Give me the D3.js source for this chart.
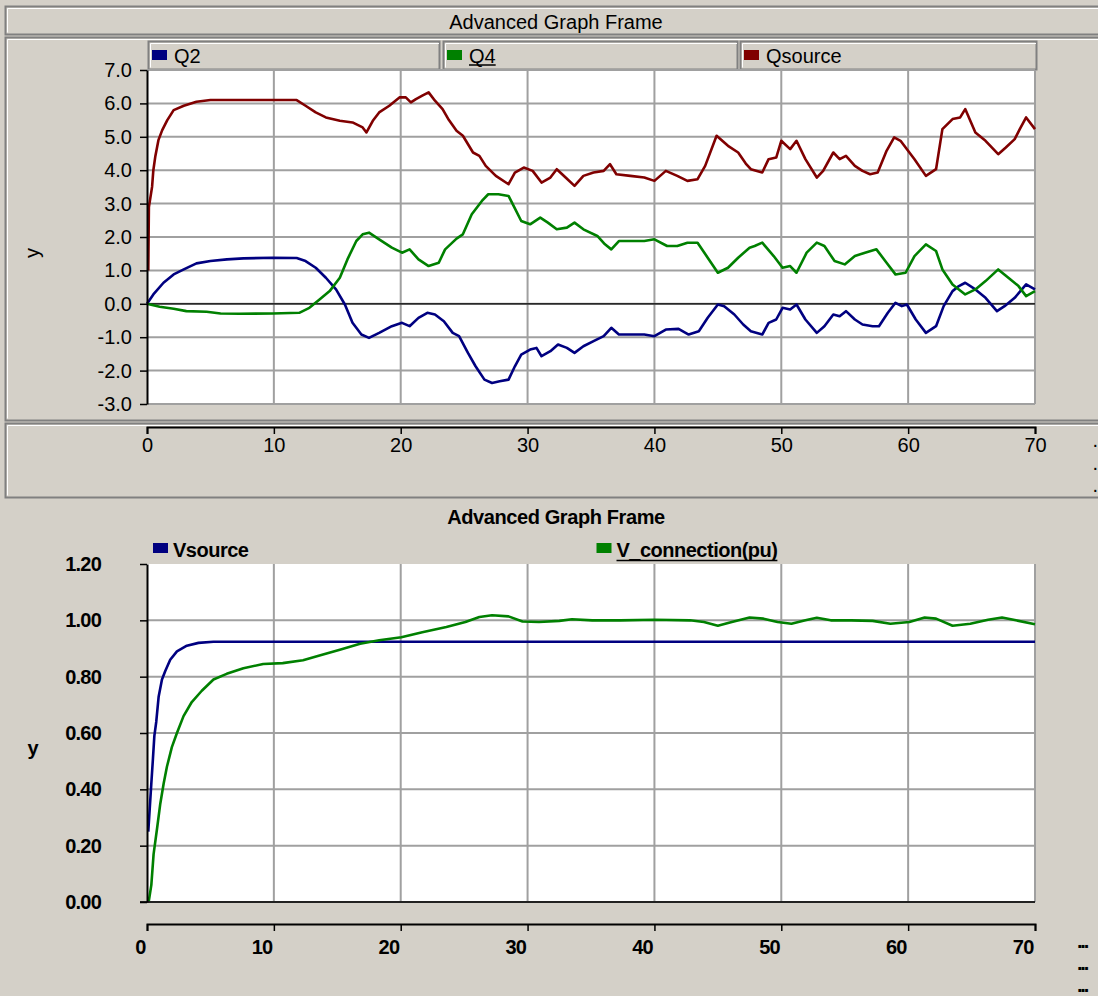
<!DOCTYPE html>
<html><head><meta charset="utf-8">
<script src="https://cdn.jsdelivr.net/npm/d3@7"></script>
<style>
body{margin:0;background:#d4d0c8;}
svg{display:block;font-family:"Liberation Sans",Arial,sans-serif;}
</style>
</head><body>
<svg id="c" width="1098" height="996"></svg>
<script>
// ---------- data ----------
const frameTitle = "Advanced Graph Frame";
const xTicks = [0,10,20,30,40,50,60,70];
const topYTicks = [7,6,5,4,3,2,1,0,-1,-2,-3];
const botYTicks = [1.2,1.0,0.8,0.6,0.4,0.2,0.0];
const topNames = ["Q2","Q4","Qsource"];
const topColors = ["#000080","#008000","#800000"];
const botNames = ["Vsource","V_connection(pu)"];
const botColors = ["#000080","#008000"];

const q2 = [[0,0],[0.5,0.28],[1.3,0.63],[2.1,0.88],[2.9,1.03],[3.9,1.21],[5.0,1.28],[6.3,1.33],[7.6,1.36],[9.9,1.38],[11.8,1.37],[12.5,1.28],[13.3,1.08],[14.1,0.78],[14.9,0.43],[15.6,-0.02],[16.2,-0.57],[16.9,-0.92],[17.5,-1.02],[18.3,-0.87],[19.3,-0.67],[20.1,-0.57],[20.7,-0.67],[21.4,-0.42],[22.1,-0.27],[22.7,-0.32],[23.4,-0.52],[24.1,-0.87],[24.6,-0.97],[25.3,-1.47],[25.9,-1.87],[26.6,-2.27],[27.2,-2.37],[27.8,-2.32],[28.5,-2.27],[29.0,-1.87],[29.5,-1.52],[30.2,-1.37],[30.7,-1.32],[31.1,-1.57],[31.8,-1.42],[32.4,-1.22],[33.1,-1.32],[33.7,-1.47],[34.4,-1.27],[35.2,-1.12],[36.0,-0.97],[36.6,-0.72],[37.2,-0.92],[38.1,-0.92],[39.2,-0.92],[40.0,-0.97],[40.9,-0.77],[41.9,-0.75],[42.7,-0.92],[43.5,-0.82],[44.2,-0.42],[45.0,-0.02],[45.5,-0.07],[46.3,-0.32],[47.0,-0.62],[47.6,-0.82],[48.5,-0.92],[49.0,-0.57],[49.6,-0.47],[50.1,-0.12],[50.7,-0.17],[51.2,-0.02],[51.9,-0.47],[52.8,-0.87],[53.4,-0.67],[54.1,-0.32],[54.6,-0.37],[55.1,-0.22],[55.8,-0.47],[56.4,-0.62],[57.2,-0.67],[57.7,-0.67],[58.4,-0.27],[59.0,0.03],[59.5,-0.07],[59.9,-0.02],[60.6,-0.47],[61.4,-0.87],[62.2,-0.67],[62.8,-0.07],[63.5,0.38],[64.0,0.53],[64.5,0.63],[65.3,0.43],[66.1,0.18],[67.0,-0.22],[67.6,-0.07],[68.4,0.18],[69.3,0.58],[70,0.43]];

const q4 = [[0,0],[1.0,-0.09],[2.1,-0.15],[3.1,-0.22],[4.7,-0.24],[5.8,-0.29],[7.3,-0.30],[9.9,-0.29],[12.0,-0.27],[12.8,-0.12],[13.6,0.13],[14.4,0.38],[15.2,0.78],[15.8,1.33],[16.5,1.88],[17.0,2.08],[17.5,2.13],[18.3,1.93],[19.3,1.68],[20.1,1.53],[20.7,1.63],[21.4,1.33],[22.2,1.13],[23.0,1.23],[23.5,1.63],[24.4,1.95],[24.9,2.08],[25.6,2.68],[26.4,3.08],[26.9,3.28],[27.7,3.28],[28.5,3.23],[28.9,2.93],[29.5,2.48],[30.2,2.38],[31.0,2.58],[31.6,2.43],[32.3,2.23],[33.1,2.28],[33.7,2.43],[34.4,2.23],[35.5,2.03],[36.1,1.78],[36.6,1.63],[37.2,1.88],[38.1,1.88],[39.2,1.88],[40.0,1.93],[41.0,1.73],[41.8,1.73],[42.6,1.83],[43.4,1.83],[44.2,1.38],[45.0,0.93],[45.8,1.08],[46.6,1.38],[47.5,1.68],[47.9,1.73],[48.5,1.83],[49.4,1.43],[50.1,1.08],[50.7,1.13],[51.2,0.93],[52.0,1.53],[52.8,1.83],[53.4,1.73],[54.2,1.28],[55.0,1.18],[55.8,1.43],[56.6,1.53],[57.5,1.63],[58.3,1.23],[59.0,0.88],[59.8,0.93],[60.5,1.43],[61.4,1.78],[62.2,1.58],[62.7,1.03],[63.5,0.58],[64.5,0.28],[65.3,0.43],[66.1,0.68],[67.1,1.03],[67.9,0.78],[68.7,0.53],[69.3,0.23],[70,0.38]];

const qsource = [[0.1,1.0],[0.15,2.9],[0.4,3.5],[0.5,4.0],[0.65,4.4],[0.9,4.9],[1.2,5.2],[1.6,5.5],[2.1,5.8],[2.9,5.93],[3.9,6.05],[5.0,6.1],[11.8,6.1],[12.5,5.93],[13.3,5.73],[14.1,5.58],[15.2,5.48],[16.2,5.43],[17.0,5.28],[17.3,5.13],[17.8,5.48],[18.3,5.73],[19.1,5.93],[19.9,6.18],[20.4,6.18],[20.8,6.03],[21.2,6.13],[21.7,6.23],[22.2,6.33],[22.7,6.08],[23.3,5.83],[23.8,5.5],[24.4,5.18],[24.9,5.03],[25.7,4.53],[26.2,4.43],[26.7,4.13],[27.5,3.83],[28.5,3.58],[29.0,3.93],[29.7,4.08],[30.4,3.98],[31.1,3.63],[31.8,3.78],[32.3,4.03],[33.0,3.78],[33.7,3.53],[34.4,3.83],[35.2,3.93],[36.0,3.98],[36.5,4.18],[37.0,3.88],[38.1,3.83],[39.2,3.78],[40.0,3.68],[40.9,3.98],[41.8,3.83],[42.6,3.68],[43.4,3.73],[44.0,4.13],[44.9,5.03],[45.8,4.73],[46.6,4.53],[47.2,4.2],[47.6,4.03],[48.5,3.93],[49.0,4.33],[49.6,4.38],[50.0,4.88],[50.7,4.63],[51.2,4.88],[51.9,4.33],[52.8,3.78],[53.3,3.98],[54.1,4.53],[54.6,4.33],[55.1,4.43],[55.8,4.13],[56.4,3.98],[57.0,3.88],[57.6,3.93],[58.3,4.58],[58.9,4.98],[59.4,4.88],[59.8,4.68],[60.5,4.33],[61.4,3.83],[62.2,4.03],[62.7,5.23],[63.5,5.53],[64.1,5.58],[64.5,5.83],[65.3,5.13],[66.1,4.88],[67.1,4.48],[67.7,4.68],[68.4,4.93],[68.8,5.23],[69.3,5.58],[70,5.23]];

const vsource = [[0.1,0.25],[0.34,0.42],[0.47,0.51],[0.58,0.59],[0.73,0.64],[0.92,0.73],[1.18,0.79],[1.44,0.82],[1.83,0.86],[2.36,0.89],[3.14,0.91],[4.06,0.92],[5.24,0.924],[70,0.924]];

const vconn = [[0.13,0],[0.34,0.06],[0.52,0.17],[0.79,0.26],[1.05,0.35],[1.31,0.42],[1.57,0.48],[1.96,0.55],[2.36,0.60],[2.88,0.66],[3.53,0.71],[4.32,0.75],[5.24,0.79],[6.28,0.81],[7.6,0.83],[9.16,0.845],[10.7,0.848],[12.3,0.858],[13.6,0.875],[15.2,0.896],[16.8,0.917],[18.3,0.929],[20.05,0.94],[21.7,0.958],[23.6,0.976],[25.1,0.994],[26.2,1.012],[27.2,1.018],[28.5,1.014],[29.6,0.996],[30.9,0.994],[32.5,0.998],[33.5,1.004],[35.1,1.0],[37.3,1.0],[40,1.002],[42.8,1.0],[43.9,0.994],[45.0,0.981],[46.1,0.994],[47.5,1.01],[48.6,1.006],[49.7,0.994],[50.8,0.988],[51.9,1.0],[52.8,1.009],[53.9,1.0],[55.5,1.0],[57.2,0.998],[58.6,0.988],[60.1,0.994],[61.3,1.01],[62.2,1.006],[63.5,0.981],[64.9,0.988],[66.3,1.002],[67.4,1.01],[68.5,1.0],[70,0.986]];

// ---------- drawing ----------
const svg = d3.select("#c");
const BG = "#d4d0c8", GRID = "#a0a0a0", DARK = "#808080";

svg.append("rect").attr("width",1098).attr("height",996).attr("fill",BG);

function bevel(x0,y0,x1,y1){
  svg.append("rect").attr("x",x0+0.5).attr("y",y0+0.5).attr("width",x1-x0).attr("height",y1-y0)
    .attr("fill","none").attr("stroke",DARK).attr("stroke-width",2);
  svg.append("path").attr("d",`M${x0+2.5},${y1-1.5}V${y0+2.5}H${x1}`)
    .attr("fill","none").attr("stroke","#fff").attr("stroke-width",1);
}

// ===== TOP FRAME =====
bevel(5,6,1110,34);
svg.append("text").attr("x",556).attr("y",28.5).attr("text-anchor","middle")
  .attr("font-size",20).text(frameTitle);
bevel(5,37,1110,420);
bevel(5,423,1110,497);

const x = d3.scaleLinear().domain([0,70]).range([147,1035]);
const yT = d3.scaleLinear().domain([-3,7]).range([404,70]);

// legend top
const legBoxes = [[148,439],[443,737],[740,1036]];
topNames.forEach((n,i)=>{
  const [a,b] = legBoxes[i];
  bevel(a,41,b,69);
  svg.append("rect").attr("x",a+4).attr("y",50).attr("width",15).attr("height",10).attr("fill",topColors[i]);
  const t = svg.append("text").attr("x",a+26).attr("y",62.5).attr("font-size",20).text(n);
  if(n==="Q4"){
    const w = t.node().getComputedTextLength();
    svg.append("line").attr("x1",a+26).attr("x2",a+26+w).attr("y1",65).attr("y2",65)
      .attr("stroke","#000").attr("stroke-width",1.5);
  }
});

// plot area top
svg.append("rect").attr("x",x(0)).attr("y",yT(7)).attr("width",x(70)-x(0)).attr("height",yT(-3)-yT(7)).attr("fill","#fff");
const gT = svg.append("g");
gT.selectAll("line.h").data(topYTicks).join("line")
  .attr("x1",x(0)).attr("x2",x(70)).attr("y1",d=>yT(d)).attr("y2",d=>yT(d))
  .attr("stroke",GRID).attr("stroke-width",2);
gT.selectAll("line.v").data(xTicks.filter(d=>d>0)).join("line")
  .attr("x1",d=>x(d)).attr("x2",d=>x(d)).attr("y1",yT(7)).attr("y2",yT(-3))
  .attr("stroke",GRID).attr("stroke-width",2);
gT.append("line").attr("x1",x(0)).attr("x2",x(70)).attr("y1",yT(0)).attr("y2",yT(0))
  .attr("stroke","#000").attr("stroke-width",1.2);

const lineT = d3.line().x(d=>x(d[0])).y(d=>yT(d[1]));
[q2,q4,qsource].forEach((s,i)=>{
  gT.append("path").attr("d",lineT(s)).attr("fill","none")
    .attr("stroke",topColors[i]).attr("stroke-width",2.6).attr("stroke-linejoin","round");
});

// y axis top
const axTY = svg.append("g").attr("transform",`translate(${x(0)},0)`)
  .call(d3.axisLeft(yT).tickValues(topYTicks).tickSize(7).tickSizeOuter(0).tickPadding(8).tickFormat(d=>d.toFixed(1)));
axTY.selectAll("text").attr("font-size",20).attr("font-family","Liberation Sans, Arial, sans-serif").attr("fill","#000");
axTY.select(".domain").attr("stroke","#000").attr("stroke-width",2);
axTY.selectAll(".tick line").attr("stroke","#000").attr("stroke-width",1.5);

svg.append("text").attr("transform","translate(39,253) rotate(-90)").attr("text-anchor","middle")
  .attr("font-size",20).text("y");

// x axis top
const axTX = svg.append("g").attr("transform","translate(0,427)")
  .call(d3.axisBottom(x).tickValues(xTicks).tickSize(7).tickPadding(4).tickFormat(d=>String(d)));
axTX.selectAll("text").attr("font-size",20).attr("font-family","Liberation Sans, Arial, sans-serif").attr("fill","#000");
axTX.select(".domain").attr("stroke","#000").attr("stroke-width",2);
axTX.selectAll(".tick line").attr("stroke","#000").attr("stroke-width",1.5);

[446.5,469.5,491.5].forEach(yy=>{
  svg.append("text").attr("x",1092.5).attr("y",yy).attr("font-size",20).text(".");
});

// ===== BOTTOM FRAME =====
svg.append("text").attr("x",556).attr("y",524).attr("text-anchor","middle")
  .attr("font-size",20).attr("font-weight","bold").attr("letter-spacing",-0.4).text(frameTitle);

const yB = d3.scaleLinear().domain([0,1.2]).range([902,564]);

// legend bottom
const botLegX = [153,596.5];
botNames.forEach((n,i)=>{
  svg.append("rect").attr("x",botLegX[i]).attr("y",543).attr("width",15).attr("height",10).attr("fill",botColors[i]);
  const t = svg.append("text").attr("x",botLegX[i]+20).attr("y",557).attr("font-size",20)
    .attr("font-weight","bold").attr("letter-spacing",-0.5).text(n);
  if(i===1){
    const w = t.node().getComputedTextLength();
    svg.append("line").attr("x1",botLegX[i]+20).attr("x2",botLegX[i]+20+w).attr("y1",560.5).attr("y2",560.5)
      .attr("stroke","#000").attr("stroke-width",1.5);
  }
});

svg.append("rect").attr("x",x(0)).attr("y",yB(1.2)).attr("width",x(70)-x(0)).attr("height",yB(0)-yB(1.2)).attr("fill","#fff");
const gB = svg.append("g");
gB.selectAll("line.h").data(botYTicks.filter(d=>d>0.01 && d<1.1)).join("line")
  .attr("x1",x(0)).attr("x2",x(70)).attr("y1",d=>yB(d)).attr("y2",d=>yB(d))
  .attr("stroke",GRID).attr("stroke-width",2);
gB.selectAll("line.v").data(xTicks.filter(d=>d>0)).join("line")
  .attr("x1",d=>x(d)).attr("x2",d=>x(d)).attr("y1",yB(1.2)).attr("y2",yB(0))
  .attr("stroke",GRID).attr("stroke-width",2);

const lineB = d3.line().x(d=>x(d[0])).y(d=>yB(d[1]));
[vsource,vconn].forEach((s,i)=>{
  gB.append("path").attr("d",lineB(s)).attr("fill","none")
    .attr("stroke",botColors[i]).attr("stroke-width",2.6).attr("stroke-linejoin","round");
});
gB.append("line").attr("x1",x(0)-7).attr("x2",x(70)).attr("y1",yB(0)).attr("y2",yB(0))
  .attr("stroke","#222").attr("stroke-width",2);

const axBY = svg.append("g").attr("transform",`translate(${x(0)},0)`)
  .call(d3.axisLeft(yB).tickValues(botYTicks).tickSize(7).tickSizeOuter(0).tickPadding(39).tickFormat(d=>d.toFixed(2)));
axBY.selectAll("text").attr("font-size",20).attr("font-weight","bold").attr("letter-spacing",-0.8)
  .attr("font-family","Liberation Sans, Arial, sans-serif").attr("fill","#000");
axBY.select(".domain").attr("stroke","#000").attr("stroke-width",2);
axBY.selectAll(".tick line").attr("stroke","#000").attr("stroke-width",1.5);

svg.append("text").attr("x",33).attr("y",755).attr("text-anchor","middle")
  .attr("font-size",20).attr("font-weight","bold").text("y");

const axBX = svg.append("g").attr("transform","translate(0,924)")
  .call(d3.axisBottom(x).tickValues(xTicks).tickSize(7).tickPadding(9).tickFormat(d=>String(d)));
axBX.selectAll("text").attr("font-size",20).attr("font-weight","bold").attr("letter-spacing",-0.8)
  .attr("text-anchor","end").attr("x",-2)
  .attr("font-family","Liberation Sans, Arial, sans-serif").attr("fill","#000");
axBX.select(".domain").attr("stroke","#000").attr("stroke-width",2);
axBX.selectAll(".tick line").attr("stroke","#000").attr("stroke-width",1.5);

[948,970,992].forEach(yy=>{
  svg.append("text").attr("x",1077).attr("y",yy).attr("font-size",20).attr("font-weight","bold")
    .attr("letter-spacing",-2.2).text("...");
});
</script>
</body></html>
